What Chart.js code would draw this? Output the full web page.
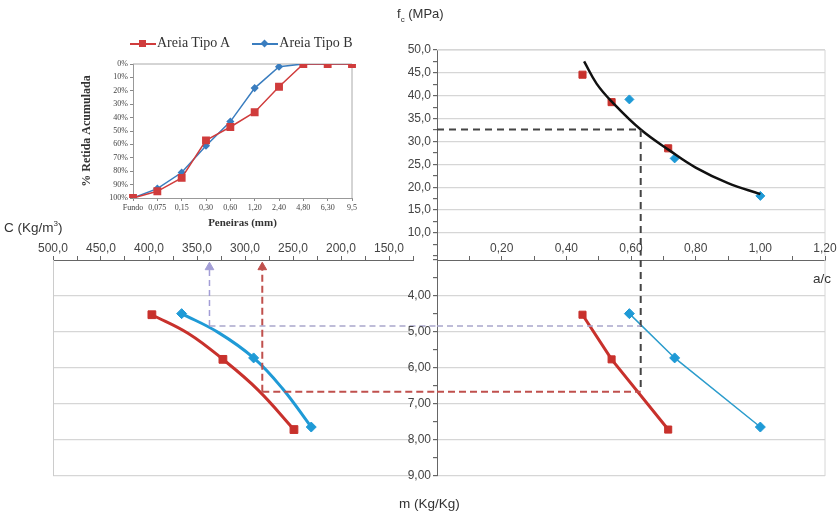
<!DOCTYPE html>
<html>
<head>
<meta charset="utf-8">
<script src="https://cdn.jsdelivr.net/npm/chart.js@4/dist/chart.umd.min.js"></script>
<style>
  html, body { margin: 0; padding: 0; background: #fff; }
  #wrap { position: relative; width: 837px; height: 513px; overflow: hidden; font-family: "Liberation Sans", Arial, sans-serif; color: #333; }
  canvas { position: absolute; }
  .lbl { position: absolute; font-size: 13px; white-space: nowrap; color: #333; }
  .lbl sub { font-size: 8px; }
  #legend { position: absolute; left: 130px; top: 35px; font-family: "Liberation Serif", "Times New Roman", serif; font-size: 14px; color: #333; white-space: nowrap; }
  .key { display: inline-block; position: relative; width: 26px; height: 12px; vertical-align: middle; margin-right: 1px; }
  .key .ln { position: absolute; left: 0; right: 0; top: 5px; height: 2px; }
  .key .mk { position: absolute; left: 9px; top: 2px; width: 7px; height: 7px; }
</style>
</head>
<body>
<div id="wrap">
  <canvas id="inset" width="300" height="200" style="left:80px;top:30px"></canvas>
  <canvas id="fc" width="457" height="225" style="left:380px;top:40px"></canvas>
  <canvas id="cm" width="440" height="260" style="left:0px;top:230px"></canvas>
  <canvas id="mac" width="457" height="260" style="left:380px;top:230px"></canvas>

  <div id="legend">
    <span class="key"><span class="ln" style="background:#d03c3c"></span><span class="mk" style="background:#d03c3c"></span></span>Areia Tipo A
    <span style="display:inline-block;width:16px"></span>
    <span class="key"><span class="ln" style="background:#3a7dbf"></span><span class="mk" style="background:#3a7dbf;transform:rotate(45deg) scale(0.8)"></span></span>Areia Tipo B
  </div>

  <div class="lbl" style="left:397px;top:6px">f<sub>c</sub> (MPa)</div>
  <div class="lbl" style="left:4px;top:219px;font-size:13.5px">C (Kg/m<sup style="font-size:8px">3</sup>)</div>
  <div class="lbl" style="left:813px;top:271px;font-size:13.5px">a/c</div>
  <div class="lbl" style="left:399px;top:496px;font-size:13.5px">m (Kg/Kg)</div>
</div>

<script>
// granulometria (inset)
const peneiras = ["Fundo", "0,075", "0,15", "0,30", "0,60", "1,20", "2,40", "4,80", "6,30", "9,5"];
const retidaA = [100, 95, 85, 57, 47, 36, 17, 0, 0, 0];
const retidaB = [100, 93, 81, 61, 43, 18, 2, 0, 0, 0];

// a/c ratio of each mix
const acA = [0.45, 0.54, 0.715];
const acB = [0.595, 0.735, 1.0];

// compressive strength (MPa)
const fcA = [44.6, 38.6, 28.5];
const fcB = [39.2, 26.3, 18.1];

// fitted strength curve
const curvaAc = [0.455, 0.494, 0.542, 0.63, 0.72, 0.80, 0.90, 1.0];
const curvaFc = [47.5, 42.6, 38.6, 32.6, 28.0, 24.3, 20.9, 18.5];

// m (Kg/Kg)
const mA = [4.52, 5.76, 7.71];
const mB = [4.49, 5.72, 7.64];

// cement consumption C (Kg/m3)
const consA = [397, 323, 249];
const consB = [366, 291, 231];

// consumption curves
const curvaConsA = [397, 359, 323, 286, 249];
const curvaMA = [4.52, 5.04, 5.76, 6.62, 7.71];
const curvaConsB = [366, 328, 291, 261, 231];
const curvaMB = [4.49, 5.01, 5.72, 6.57, 7.64];

// reading of the diagram
const acAlvo = 0.63;
const fcAlvo = 32.6;
const mLidoB = 4.83;
const mLidoA = 6.66;
const consLidoB = 337;
const consLidoA = 282;

const RED = "#c8312c";
const BLUE = "#1f9ad6";
const GRID = "#d6d6d6";
const AXIS = "#666";
const NONE = "rgba(0,0,0,0)";

Chart.defaults.font.family = "'Liberation Sans', Arial, sans-serif";
Chart.defaults.font.size = 12;
Chart.defaults.color = "#444";
Chart.defaults.animation = false;

function comma(v, d) { return v.toFixed(d).replace(".", ","); }
function pts(xs, ys) { return xs.map((x, i) => ({ x: x, y: ys[i] })); }

// draws selected sides of the plot frame
const framePlugin = {
  id: "frame",
  beforeDatasetsDraw(chart, args, opts) {
    const a = chart.chartArea, c = chart.ctx;
    c.save();
    c.strokeStyle = opts.color || GRID;
    c.lineWidth = opts.width || 1;
    c.beginPath();
    (opts.sides || []).forEach(s => {
      if (s === "top") { c.moveTo(a.left, a.top); c.lineTo(a.right, a.top); }
      if (s === "right") { c.moveTo(a.right, a.top); c.lineTo(a.right, a.bottom); }
      if (s === "bottom") { c.moveTo(a.left, a.bottom); c.lineTo(a.right, a.bottom); }
      if (s === "left") { c.moveTo(a.left, a.top); c.lineTo(a.left, a.bottom); }
    });
    c.stroke();
    c.restore();
  }
};
Chart.register(framePlugin);

function dashed(data, color, width, dash, clip) {
  return {
    data: data, showLine: true, borderColor: color, borderWidth: width,
    borderDash: dash, pointRadius: 0, tension: 0, clip: clip === false ? false : undefined
  };
}

// ---------- inset: curva granulometrica ----------
const serif = "'Liberation Serif', 'Times New Roman', serif";
new Chart(document.getElementById("inset"), {
  type: "line",
  data: {
    labels: peneiras,
    datasets: [
      { label: "Areia Tipo A", data: retidaA, borderColor: "#d03c3c", backgroundColor: "#d03c3c",
        borderWidth: 1.5, pointStyle: "rect", pointRadius: 4.5, tension: 0 },
      { label: "Areia Tipo B", data: retidaB, borderColor: "#3a7dbf", backgroundColor: "#3a7dbf",
        borderWidth: 1.5, pointStyle: "rectRot", pointRadius: 3, tension: 0 }
    ]
  },
  options: {
    responsive: false,
    layout: { padding: { top: 34, right: 28, left: 0, bottom: 0 } },
    plugins: { legend: { display: false }, tooltip: { enabled: false },
      frame: { sides: ["top", "right"], color: "#aaa" } },
    scales: {
      x: {
        offset: false,
        ticks: { font: { family: serif, size: 8 }, color: "#444", maxRotation: 0, autoSkip: false, padding: 2 },
        grid: { drawOnChartArea: false, tickLength: 3, tickColor: "#888" },
        border: { color: "#999" },
        title: { display: true, text: "Peneiras (mm)", font: { family: serif, size: 11, weight: "bold" }, color: "#333", padding: 0 },
        afterFit: s => { s.height = 32; }
      },
      y: {
        reverse: true, min: 0, max: 100,
        ticks: { stepSize: 10, callback: v => v + "%", font: { family: serif, size: 8 }, color: "#444", padding: 2 },
        grid: { drawOnChartArea: false, tickLength: 3, tickColor: "#888" },
        border: { color: "#999" },
        title: { display: true, text: "% Retida Acumulada", font: { family: serif, size: 12, weight: "bold" }, color: "#333", padding: 0 },
        afterFit: s => { s.width = 53; }
      }
    }
  }
});

// ---------- top right: fc x a/c ----------
new Chart(document.getElementById("fc"), {
  type: "scatter",
  data: {
    datasets: [
      dashed(pts([0, acAlvo, acAlvo], [fcAlvo, fcAlvo, 5]), "#444", 2, [7, 5]),
      { data: pts(curvaAc, curvaFc), showLine: true, borderColor: "#111", borderWidth: 2.5, pointRadius: 0, tension: 0.4 },
      { data: pts(acA, fcA), pointStyle: "rect", pointRadius: 5, backgroundColor: RED, borderColor: RED },
      { data: pts(acB, fcB), pointStyle: "rectRot", pointRadius: 4.5, backgroundColor: BLUE, borderColor: BLUE }
    ]
  },
  options: {
    responsive: false,
    layout: { padding: { top: 10, right: 12, bottom: 5, left: 0 } },
    plugins: { legend: { display: false }, tooltip: { enabled: false }, frame: { sides: ["right", "top"] } },
    scales: {
      x: { type: "linear", min: 0, max: 1.2, display: false },
      y: {
        min: 5, max: 50,
        ticks: { stepSize: 2.5, autoSkip: false, padding: 2,
          callback: v => (v % 5 === 0 && v >= 10) ? comma(v, 1) : "" },
        grid: { color: c => (c.tick && c.tick.value % 5 === 0 && c.tick.value > 5) ? GRID : NONE,
          lineWidth: 1.2, tickColor: AXIS, tickLength: 4 },
        border: { color: AXIS },
        afterFit: s => { s.width = 57; }
      }
    }
  }
});

// ---------- bottom left: C x m ----------
new Chart(document.getElementById("cm"), {
  type: "scatter",
  data: {
    datasets: [
      dashed(pts([consLidoB, 100], [mLidoB, mLidoB]), "#a9a6cc", 1.5, [6, 4], false),
      dashed(pts([consLidoB, consLidoB], [mLidoB, 3.12]), "#a39ed6", 1.5, [6, 4]),
      dashed(pts([consLidoA, 100], [mLidoA, mLidoA]), "#c0504d", 2, [7, 4], false),
      dashed(pts([consLidoA, consLidoA], [mLidoA, 3.12]), "#c0504d", 2, [7, 4]),
      { data: pts([consLidoB], [3.2]), pointStyle: "triangle", pointRadius: 5, backgroundColor: "#a39ed6", borderColor: "#a39ed6" },
      { data: pts([consLidoA], [3.2]), pointStyle: "triangle", pointRadius: 5, backgroundColor: "#c0504d", borderColor: "#c0504d" },
      { data: pts(curvaConsA, curvaMA), showLine: true, borderColor: RED, borderWidth: 3, pointRadius: 0, tension: 0.4 },
      { data: pts(curvaConsB, curvaMB), showLine: true, borderColor: BLUE, borderWidth: 3, pointRadius: 0, tension: 0.4 },
      { data: pts(consA, mA), pointStyle: "rect", pointRadius: 5.5, backgroundColor: RED, borderColor: RED },
      { data: pts(consB, mB), pointStyle: "rectRot", pointRadius: 5, backgroundColor: BLUE, borderColor: BLUE }
    ]
  },
  options: {
    responsive: false,
    layout: { padding: { top: 0, right: 27, bottom: 14, left: 0 } },
    plugins: { legend: { display: false }, tooltip: { enabled: false } },
    scales: {
      x: {
        type: "linear", position: "top", reverse: true, min: 125, max: 500,
        ticks: { stepSize: 25, autoSkip: false, maxRotation: 0, padding: 0,
          callback: v => v % 50 === 0 ? comma(v, 1) : "" },
        grid: { drawOnChartArea: false, tickColor: AXIS, tickLength: 4 },
        border: { color: AXIS },
        afterFit: s => { s.height = 30; }
      },
      y: {
        reverse: true, min: 3, max: 9,
        ticks: { display: false, stepSize: 1 },
        grid: { color: c => (c.tick && c.tick.value > 3) ? GRID : NONE, lineWidth: 1.2, drawTicks: false },
        border: { color: "#ccc" },
        afterFit: s => { s.width = 53; }
      }
    }
  }
});

// ---------- bottom right: m x a/c ----------
new Chart(document.getElementById("mac"), {
  type: "scatter",
  data: {
    datasets: [
      dashed(pts([0, acAlvo], [mLidoB, mLidoB]), "#a9a6cc", 1.5, [6, 4]),
      dashed(pts([0, acAlvo], [mLidoA, mLidoA]), "#c0504d", 2, [7, 4]),
      dashed(pts([acAlvo, acAlvo], [3, mLidoA]), "#444", 2, [7, 5]),
      { data: pts(acA, mA), showLine: true, borderColor: RED, backgroundColor: RED, borderWidth: 3,
        pointStyle: "rect", pointRadius: 5, pointBorderWidth: 1, tension: 0 },
      { data: pts(acB, mB), showLine: true, borderColor: "#2b9ccc", backgroundColor: BLUE, borderWidth: 1.5,
        pointStyle: "rectRot", pointRadius: 5, pointBorderWidth: 1, pointBorderColor: BLUE, tension: 0 }
    ]
  },
  options: {
    responsive: false,
    layout: { padding: { top: 0, right: 12, bottom: 14, left: 0 } },
    plugins: { legend: { display: false }, tooltip: { enabled: false }, frame: { sides: ["right"] } },
    scales: {
      x: {
        type: "linear", position: "top", min: 0, max: 1.2,
        ticks: { stepSize: 0.1, autoSkip: false, maxRotation: 0, padding: 0,
          callback: v => { const k = Math.round(v * 10); return (k % 2 === 0 && k > 0) ? comma(v, 2) : ""; } },
        grid: { drawOnChartArea: false, tickColor: AXIS, tickLength: 4 },
        border: { color: AXIS },
        afterFit: s => { s.height = 30; }
      },
      y: {
        reverse: true, min: 3, max: 9,
        ticks: { stepSize: 0.5, autoSkip: false, padding: 2,
          callback: v => (Number.isInteger(v) && v > 3) ? comma(v, 2) : "" },
        grid: { color: c => (c.tick && Number.isInteger(c.tick.value) && c.tick.value > 3) ? GRID : NONE,
          lineWidth: 1.2, tickColor: AXIS, tickLength: 4 },
        border: { color: AXIS },
        afterFit: s => { s.width = 57; }
      }
    }
  }
});
</script>
</body>
</html>
